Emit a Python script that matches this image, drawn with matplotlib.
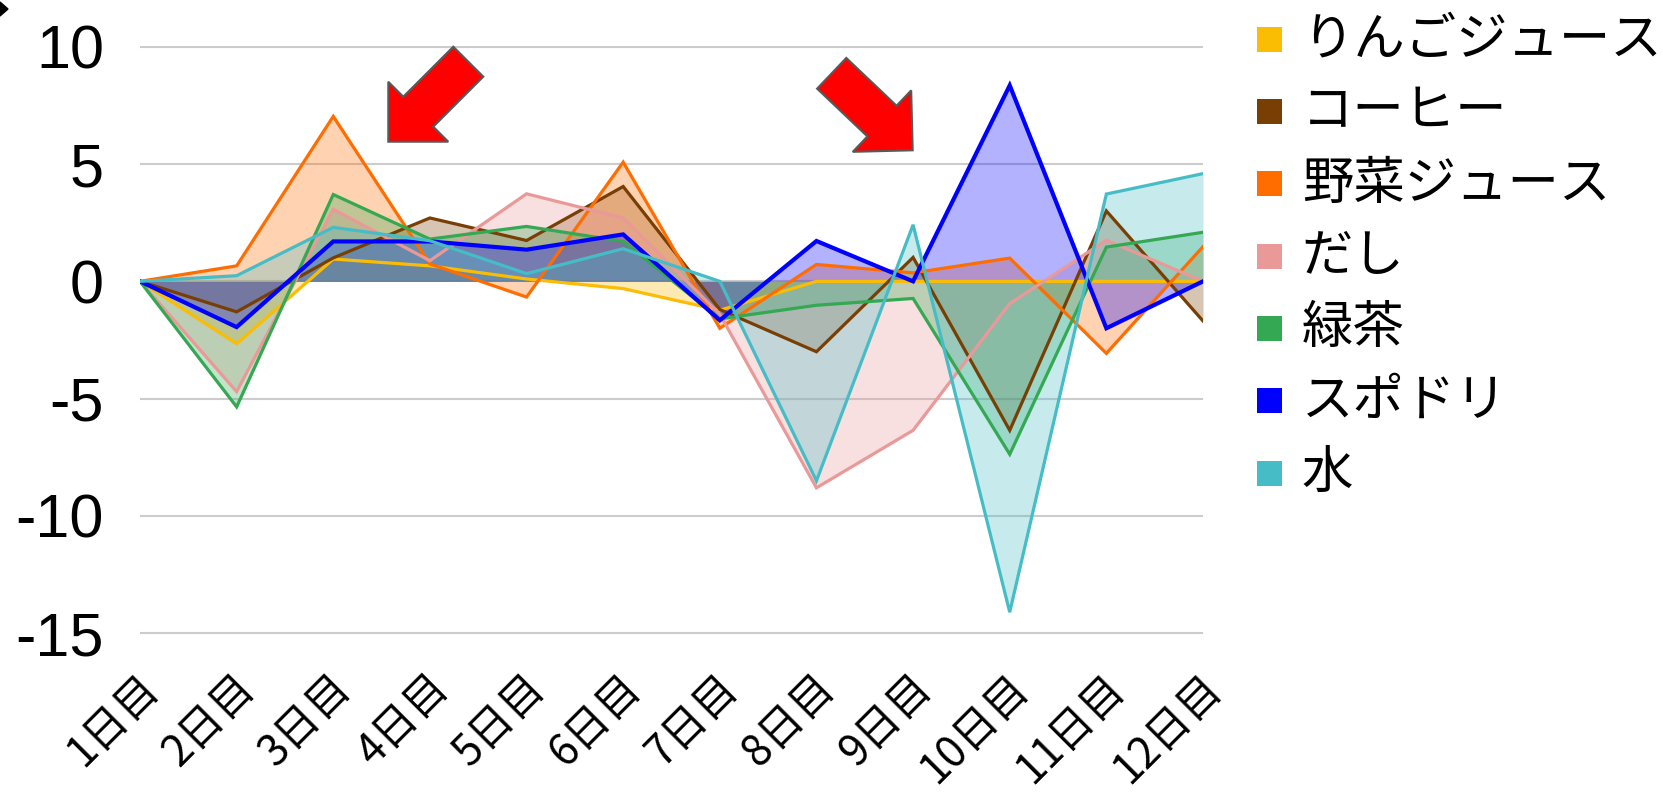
import numpy as np
import matplotlib
matplotlib.use('Agg')
import matplotlib.pyplot as plt
from matplotlib.patches import FancyArrow, Rectangle, Polygon
from matplotlib.transforms import ScaledTranslation

plt.rcParams['font.family'] = ['Liberation Sans', 'Noto Sans CJK JP', 'DejaVu Sans']
plt.rcParams['axes.unicode_minus'] = False

days = ['1日目', '2日目', '3日目', '4日目', '5日目', '6日目',
        '7日目', '8日目', '9日目', '10日目', '11日目', '12日目']
names = ['りんごジュース', 'コーヒー', '野菜ジュース', 'だし', '緑茶', 'スポドリ', '水']
colors = ['#FBBC04', '#783F04', '#FF6D01', '#EA9999', '#34A853', '#0000FF', '#46BDC6']

apple = [0, -2.66, 0.95, 0.66, 0.1, -0.31, -1.23, 0, 0, 0, 0, 0]
coffee = [0, -1.3, 1.0, 2.7, 1.74, 4.04, -1.2, -3.0, 1.02, -6.35, 3.0, -1.69]
vege = [0, 0.66, 7.03, 0.74, -0.67, 5.08, -2.0, 0.72, 0.36, 0.99, -3.07, 1.48]
dashi = [0, -4.7, 3.07, 0.88, 3.73, 2.7, -1.4, -8.8, -6.35, -0.95, 1.75, 0.0]
greentea = [0, -5.35, 3.7, 1.8, 2.34, 1.7, -1.6, -1.02, -0.73, -7.37, 1.46, 2.09]
sports = [0, -1.95, 1.7, 1.7, 1.35, 2.0, -1.66, 1.72, 0.0, 8.35, -2.0, 0.0]
water = [0, 0.24, 2.3, 1.73, 0.33, 1.39, 0.0, -8.5, 2.41, -14.1, 3.72, 4.59]

series = [apple, coffee, vege, dashi, greentea, sports, water]

W, H = 1663, 801
fig = plt.figure(figsize=(W / 100, H / 100), dpi=100)
ax = fig.add_axes([140 / W, 1 - 634.5 / H, (1203 - 140) / W, (634.5 - 45.5) / H])

x = np.arange(len(days))
for vals, c in zip(series, colors):
    ax.fill_between(x, 0, vals, color=c, alpha=0.3, lw=0)
for vals, c in zip(series, colors):
    ax.plot(x, vals, color=c, lw=3.0 if c == '#0000FF' else 2.3, solid_joinstyle='miter')

ax.set_xlim(0, 11)
ax.set_ylim(-15.05, 10.05)
ax.set_yticks([-15, -10, -5, 0, 5, 10])
ax.grid(axis='y', color='#cccccc', lw=1.5)
ax.set_axisbelow(True)
for s in ax.spines.values():
    s.set_visible(False)
ax.tick_params(length=0)
ax.tick_params(axis='y', pad=26, labelsize=44)
ax.set_xticks(x)
ax.set_xticklabels(days, rotation=45, ha='right', va='center', rotation_mode='anchor',
                   fontsize=31, family=['Noto Sans CJK JP'])
ax.tick_params(axis='x', pad=34)
shift = ScaledTranslation(0.12, 0, fig.dpi_scale_trans)
for lab in ax.get_xticklabels():
    lab.set_transform(lab.get_transform() + shift)

# legend drawn by hand
for i, (name, c) in enumerate(zip(names, colors)):
    yc = 39.3 + i * 72.3
    fig.add_artist(Rectangle((1256.7 / W, 1 - (yc + 12.5) / H), 25 / W, 25 / H,
                             transform=fig.transFigure, color=c, lw=0))
    fig.text(1301.7 / W, 1 - yc / H, name, fontsize=37, va='center', ha='left',
             family=['Noto Sans CJK JP'])

# red arrows
for tx, ty, dx, dy in [(468.3, 61.7, -80, 80), (831.7, 73.3, 81, 77)]:
    fig.add_artist(FancyArrow(tx / 100, (H - ty) / 100, dx / 100, -dy / 100,
                              width=0.424, head_width=0.848, head_length=0.424,
                              length_includes_head=True, transform=fig.dpi_scale_trans,
                              facecolor='#FF0000', edgecolor='#595959', lw=1.5))

# selection handle fragment at top left
fig.add_artist(Polygon([(0, 1 - 2 / H), (8 / W, 1 - 9 / H), (0, 1 - 16 / H)],
                       transform=fig.transFigure, color='black'))

fig.savefig('out.png', dpi=100)
